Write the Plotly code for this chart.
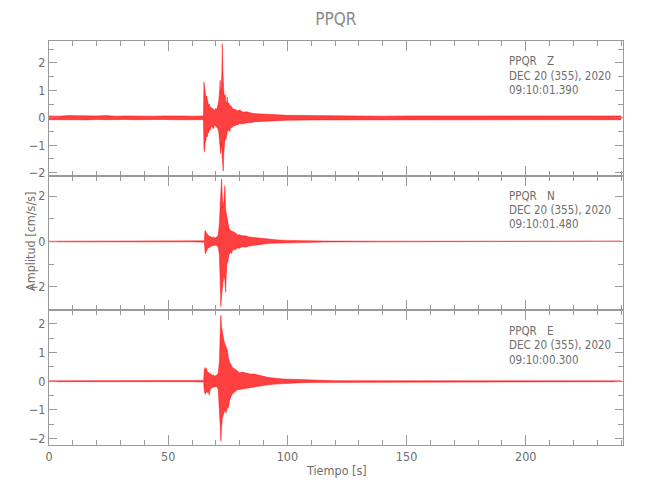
import plotly.graph_objects as go

# ---------------- data (envelopes) ----------------
title_text = "PPQR"
components = ["Z", "N", "E"]
start_times = ["09:10:01.390", "09:10:01.480", "09:10:00.300"]
date_text = "DEC 20 (355), 2020"

t_z = [0, 4, 8, 12, 16, 20, 24, 28, 32, 36, 40, 44, 48, 52, 56, 60, 64.8,
       65.0, 65.2, 65.5, 65.8, 66.1, 66.4, 66.7, 67.0, 67.3, 67.6, 68.0, 68.4,
       68.8, 69.2, 69.6, 70.0, 70.4, 70.8, 71.2, 71.6, 71.8, 72.0, 72.3, 72.5,
       72.7, 72.9, 73.1, 73.3, 73.6, 73.9, 74.2, 74.6, 74.8, 75.0, 75.4, 75.9,
       76.2, 76.8, 77.4, 78.0, 79.0, 80.0, 81.5, 83, 85, 87, 90, 93, 96, 100,
       110, 120, 130, 140, 150, 160, 170, 180, 190, 200, 210, 220, 230, 240]
up_z = [0.07, 0.06, 0.08, 0.07, 0.06, 0.07, 0.08, 0.06, 0.07, 0.06, 0.07, 0.06,
        0.07, 0.08, 0.07, 0.06, 0.07,
        1.30, 1.10, 0.90, 0.75, 0.80, 0.60, 0.55, 0.45, 0.50, 0.35, 0.40, 0.30,
        0.35, 0.25, 0.30, 0.35, 0.30, 0.45, 0.60, 1.00, 1.37, 0.90, 1.10, 1.60,
        2.70, 1.80, 1.20, 1.00, 0.75, 0.85, 0.60, 0.55, 0.76, 0.50, 0.55, 0.40,
        0.45, 0.35, 0.30, 0.32, 0.25, 0.28, 0.20, 0.22, 0.17, 0.15, 0.13, 0.11,
        0.10, 0.09,
        0.08, 0.07, 0.07, 0.06, 0.07, 0.07, 0.06, 0.07, 0.07, 0.06, 0.07, 0.07,
        0.06, 0.07]
lo_z = [-0.07, -0.07, -0.06, -0.07, -0.08, -0.06, -0.07, -0.07, -0.06, -0.07,
        -0.08, -0.07, -0.06, -0.07, -0.07, -0.08, -0.07,
        -1.10, -1.24, -0.90, -0.85, -0.60, -0.70, -0.50, -0.55, -0.40, -0.45,
        -0.35, -0.30, -0.40, -0.33, -0.25, -0.30, -0.35, -0.40, -0.50, -0.80,
        -1.00, -1.30, -0.90, -1.20, -1.50, -1.80, -1.94, -1.30, -0.90, -0.70,
        -0.80, -0.60, -0.50, -0.50, -0.40, -0.50, -0.35, -0.35, -0.30, -0.28,
        -0.25, -0.22, -0.22, -0.18, -0.17, -0.14, -0.13, -0.11, -0.10, -0.09,
        -0.08, -0.07, -0.06, -0.07, -0.07, -0.06, -0.07, -0.07, -0.06, -0.07,
        -0.07, -0.06, -0.07, -0.07]

t_n = [0, 20, 40, 60, 65.2, 65.4, 65.6, 65.9, 66.2, 66.6, 67.0, 67.5, 68.0,
       68.5, 69.0, 69.5, 70.0, 70.5, 71.0, 71.5, 71.8, 72.1, 72.4, 72.7, 73.0,
       73.4, 73.8, 74.1, 74.4, 74.6, 75.0, 75.5, 76.0, 76.5, 77.0, 77.6, 78.2,
       79.0, 80.0, 81.0, 82.5, 84, 86, 88, 90, 93, 96, 100, 105, 110, 116,
       140, 170, 200, 240]
up_n = [0.015, 0.015, 0.015, 0.015, 0.03, 0.45, 0.48, 0.40, 0.35, 0.30, 0.25,
        0.22, 0.20, 0.18, 0.20, 0.16, 0.18, 0.20, 0.30, 0.80, 1.60, 2.20, 2.76,
        2.00, 1.50, 1.80, 2.46, 1.40, 1.20, 1.00, 0.92, 0.60, 0.50, 0.48, 0.45,
        0.40, 0.38, 0.30, 0.30, 0.25, 0.25, 0.20, 0.18, 0.14, 0.11, 0.08, 0.07,
        0.05, 0.04, 0.03, 0.02, 0.015, 0.015, 0.015, 0.015]
lo_n = [-0.015, -0.015, -0.015, -0.015, -0.03, -0.35, -0.54, -0.45, -0.40,
        -0.30, -0.30, -0.25, -0.20, -0.20, -0.17, -0.18, -0.15, -0.20, -0.25,
        -0.60, -1.80, -2.86, -2.40, -2.00, -1.80, -1.50, -1.70, -2.23, -1.40,
        -1.00, -0.90, -0.60, -0.45, -0.53, -0.40, -0.35, -0.36, -0.28, -0.30,
        -0.22, -0.25, -0.20, -0.18, -0.13, -0.11, -0.08, -0.06, -0.05, -0.04,
        -0.03, -0.02, -0.015, -0.015, -0.015, -0.015]

t_e = [0, 20, 40, 60, 64.9, 65.1, 65.4, 65.7, 66.0, 66.4, 66.8, 67.2, 67.6,
       68.0, 68.5, 69.0, 69.5, 70.0, 70.5, 71.0, 71.5, 71.8, 72.1, 72.4, 72.7,
       73.0, 73.4, 73.8, 74.2, 74.8, 75.3, 75.8, 76.3, 76.8, 77.5, 78.2, 79.0,
       80.0, 81.0, 82.0, 83.0, 84.5, 86.0, 88.0, 90.0, 92.0, 95, 98, 102, 106,
       110, 115, 120, 150, 180, 210, 240]
up_e = [0.015, 0.015, 0.015, 0.015, 0.03, 0.35, 0.48, 0.40, 0.45, 0.35, 0.30,
        0.30, 0.25, 0.25, 0.20, 0.22, 0.18, 0.20, 0.22, 0.30, 0.70, 1.60, 2.30,
        1.90, 1.70, 1.50, 1.40, 1.30, 1.20, 1.10, 0.80, 0.65, 0.60, 0.50, 0.45,
        0.40, 0.35, 0.30, 0.32, 0.30, 0.28, 0.25, 0.25, 0.20, 0.17, 0.13, 0.10,
        0.08, 0.07, 0.06, 0.04, 0.03, 0.02, 0.015, 0.015, 0.015, 0.015]
lo_e = [-0.015, -0.015, -0.015, -0.015, -0.03, -0.30, -0.43, -0.45, -0.35,
        -0.40, -0.35, -0.48, -0.30, -0.25, -0.22, -0.20, -0.20, -0.18, -0.20,
        -0.30, -0.80, -1.50, -2.08, -1.60, -1.30, -1.20, -1.10, -1.00, -1.10,
        -0.95, -0.90, -0.66, -0.55, -0.45, -0.40, -0.35, -0.30, -0.30, -0.28,
        -0.25, -0.26, -0.22, -0.20, -0.18, -0.15, -0.12, -0.10, -0.08, -0.06,
        -0.05, -0.04, -0.03, -0.02, -0.015, -0.015, -0.015, -0.015]

y_ranges = [[-2.11, 2.80], [-3.03, 2.90], [-2.22, 2.47]]
y_dticks = [1, 2, 1]
y_minor = [0.5, 1, 0.5]
x_range = [0, 240.8]
x_tickvals = [0, 50, 100, 150, 200]

series = [(t_z, up_z, lo_z), (t_n, up_n, lo_n), (t_e, up_e, lo_e)]

# ---------------- figure ----------------
FONT = "Liberation Sans Narrow, DejaVu Sans Condensed, Arial Narrow, sans-serif"
AX = "#9a9a9a"
TXT = "#6e6e6e"
PFS = 11.5  # panel text size

fig = go.Figure()
for i, (t, up, lo) in enumerate(series):
    k = "" if i == 0 else str(i + 1)
    fig.add_trace(go.Scatter(
        x=list(t) + list(t[::-1]),
        y=list(up) + list(lo[::-1]),
        fill="toself", fillcolor="rgba(255,0,0,0.75)",
        line=dict(color="rgba(255,0,0,0.9)", width=0.5),
        mode="lines", hoverinfo="skip", showlegend=False,
        xaxis="x" + k, yaxis="y" + k))

domains = [[2 / 3, 1.0], [1 / 3, 2 / 3], [0.0, 1 / 3]]
layout = dict(
    width=650, height=500,
    margin=dict(l=49, r=27, t=41, b=55),
    paper_bgcolor="white", plot_bgcolor="white",
    font=dict(family=FONT, color=TXT, size=12),
    title=dict(text=title_text, x=0.5168, xanchor="center", y=0.962,
               yanchor="middle", font=dict(size=17, color="#8a8a8a")),
)
for i in range(3):
    k = "" if i == 0 else str(i + 1)
    layout["xaxis" + k] = dict(
        range=x_range, anchor="y" + k, showline=True, linecolor=AX,
        linewidth=1, mirror="ticks", ticks="inside", ticklen=10,
        tickcolor=AX, tickvals=x_tickvals, showticklabels=(i == 2),
        minor=dict(dtick=10, ticklen=5, tickcolor=AX, ticks="inside"),
        showgrid=False, zeroline=False, tickfont=dict(size=12.5, color=TXT))
    layout["yaxis" + k] = dict(
        range=y_ranges[i], domain=domains[i], anchor="x" + k, showline=True,
        linecolor=AX, linewidth=1, mirror="ticks", ticks="inside", ticklen=8,
        tickcolor=AX, dtick=y_dticks[i], tick0=0,
        minor=dict(dtick=y_minor[i], ticklen=5, tickcolor=AX, ticks="inside"),
        showgrid=False, zeroline=False, tickfont=dict(size=12.5, color=TXT))
fig.update_layout(**layout)

# panel texts
panel_tops = [40.7, 175.0, 310.0]
line_offsets = [20.5, 35.0, 49.5]
def py(p):
    return (445.0 - p) / 404.0
def px(p):
    return (p - 49.0) / 574.0

for i in range(3):
    top = panel_tops[i]
    fig.add_annotation(text="PPQR", x=px(507), y=py(top + line_offsets[0]),
                       xref="paper", yref="paper", xanchor="left",
                       yanchor="middle", showarrow=False,
                       font=dict(size=PFS, color=TXT))
    fig.add_annotation(text=components[i], x=px(545), y=py(top + line_offsets[0]),
                       xref="paper", yref="paper", xanchor="left",
                       yanchor="middle", showarrow=False,
                       font=dict(size=PFS, color=TXT))
    fig.add_annotation(text=date_text, x=px(507), y=py(top + line_offsets[1]),
                       xref="paper", yref="paper", xanchor="left",
                       yanchor="middle", showarrow=False,
                       font=dict(size=PFS, color=TXT))
    fig.add_annotation(text=start_times[i], x=px(507), y=py(top + line_offsets[2]),
                       xref="paper", yref="paper", xanchor="left",
                       yanchor="middle", showarrow=False,
                       font=dict(size=PFS, color=TXT))

# axis titles
fig.add_annotation(text="Tiempo [s]", x=px(336), y=py(470), xref="paper",
                   yref="paper", xanchor="center", yanchor="middle",
                   showarrow=False, font=dict(size=12.5, color=TXT))
fig.add_annotation(text="Amplitud [cm/s/s]", x=px(30), y=py(241), xref="paper",
                   yref="paper", xanchor="center", yanchor="middle",
                   textangle=-90, showarrow=False,
                   font=dict(size=12.5, color=TXT))

fig.write_html("out.html",
               config={"displayModeBar": False},
               post_script="document.body.style.margin='0px';")
